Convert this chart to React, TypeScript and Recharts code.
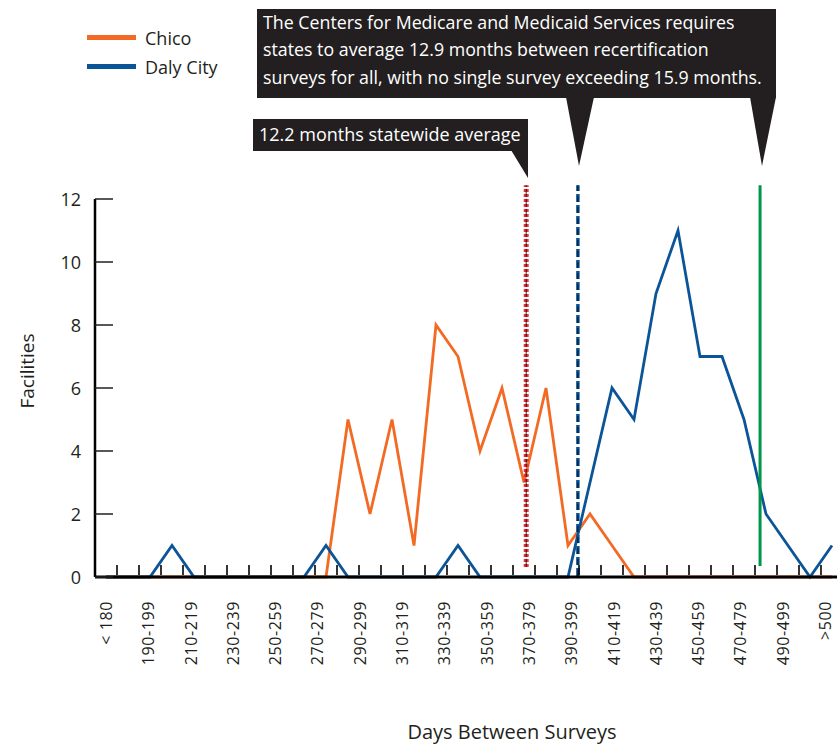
import React from "react";
import { LineChart, Line, XAxis, YAxis, ReferenceLine, Legend } from "recharts";

const categories = [
  "<180", "180-189", "190-199", "200-209", "210-219", "220-229", "230-239", "240-249",
  "250-259", "260-269", "270-279", "280-289", "290-299", "300-309", "310-319", "320-329",
  "330-339", "340-349", "350-359", "360-369", "370-379", "380-389", "390-399", "400-409",
  "410-419", "420-429", "430-439", "440-449", "450-459", "460-469", "470-479", "480-489",
  "490-499", ">500",
];
const chico = [0, 0, 0, 0, 0, 0, 0, 0, 0, 0, 0, 5, 2, 5, 1, 8, 7, 4, 6, 3, 6, 1, 2, 1, 0, 0, 0, 0, 0, 0, 0, 0, 0, 0];
const dalyCity = [0, 0, 0, 1, 0, 0, 0, 0, 0, 0, 1, 0, 0, 0, 0, 0, 1, 0, 0, 0, 0, 0, 3, 6, 5, 9, 11, 7, 7, 5, 2, 1, 0, 1];
const axisLabels = [
  "< 180", "190-199", "210-219", "230-239", "250-259", "270-279", "290-299", "310-319",
  "330-339", "350-359", "370-379", "390-399", "410-419", "430-439", "450-459", "470-479",
  "490-499", ">500",
];
const yTicks = [0, 2, 4, 6, 8, 10, 12];
// reference positions in category-index units
const statewideAvg = 19.1;
const cmsAverage = 21.45;
const cmsMax = 29.73;

const data = categories.map((c, i) => ({ i, cat: c, chico: chico[i], daly: dalyCity[i] }));
const lastIdx = categories.length - 1;
const boundaryTicks = categories.slice(1).map((_, k) => k + 0.5);
// the printed labels are spread evenly across the category span
const labelTicks = axisLabels.map((_, k) => (k * lastIdx) / (axisLabels.length - 1));

const FONT = "'Open Sans', sans-serif";
const ORANGE = "#f26a24";
const BLUE = "#0b5497";
const RED = "#ee3338";
const GREEN = "#00964a";
const DARK = "#231f20";

const YTick = (props: any) => {
  const { x, y, payload } = props;
  return (
    <g>
      <line x1={x + 14} x2={x + 32} y1={y} y2={y} stroke="#231f20" strokeWidth={1.5} />
      <text x={x} y={y} textAnchor="end" dominantBaseline="central" fontSize={18} fill="#231f20" fontFamily={FONT}>
        {payload.value}
      </text>
    </g>
  );
};

const XBoundaryTick = (props: any) => {
  const { x, y } = props;
  return <line x1={x} x2={x} y1={y - 12} y2={y - 2} stroke="#000" strokeWidth={1.6} />;
};

const XLabelTick = (props: any) => {
  const { x, y, index } = props;
  return (
    <text
      transform={`translate(${x},${y + 23}) rotate(-90)`}
      textAnchor="end"
      dominantBaseline="central"
      fontSize={16}
      letterSpacing={0.6}
      fill="#231f20"
      fontFamily={FONT}
    >
      {axisLabels[index]}
    </text>
  );
};

const LegendContent = (props: any) => {
  const { payload } = props;
  return (
    <div style={{ fontFamily: FONT }}>
      {(payload || []).map((p: any) => (
        <div key={p.value} style={{ display: "flex", alignItems: "center", height: 29 }}>
          <div style={{ width: 49, height: 5, background: p.color, marginRight: 9 }} />
          <span style={{ fontSize: 18, color: "#231f20" }}>{p.value}</span>
        </div>
      ))}
    </div>
  );
};

export default function App() {
  return (
    <div style={{ position: "absolute", left: 0, top: 0, width: 837, height: 747, background: "#fff" }}>
      <LineChart width={837} height={747} data={data} margin={{ top: 199, right: 0, left: 0, bottom: 69 }}>
        <XAxis
          dataKey="i"
          type="number"
          domain={[0, lastIdx]}
          ticks={boundaryTicks}
          interval={0}
          padding={{ left: 11, right: 5 }}
          axisLine={{ stroke: "#000", strokeWidth: 3 }}
          tickLine={false}
          tickSize={0}
          tickMargin={0}
          tick={<XBoundaryTick />}
          height={1}
        />
        <XAxis
          xAxisId="lab"
          dataKey="i"
          type="number"
          domain={[0, lastIdx]}
          ticks={labelTicks}
          interval={0}
          padding={{ left: 11, right: 12 }}
          axisLine={false}
          tickLine={false}
          tickSize={0}
          tickMargin={0}
          tick={<XLabelTick />}
          height={100}
        />
        <YAxis
          domain={[0, 12]}
          ticks={yTicks}
          interval={0}
          width={95}
          axisLine={{ stroke: "#000", strokeWidth: 2.5 }}
          tickLine={false}
          tickSize={0}
          tickMargin={14}
          tick={<YTick />}
        />
        <Legend
          layout="vertical"
          align="center"
          verticalAlign="middle"
          content={<LegendContent />}
          wrapperStyle={{ position: "absolute", top: 23, left: 87, width: 200 }}
        />
        <Line dataKey="chico" name="Chico" stroke={ORANGE} strokeWidth={2.8} dot={false} isAnimationActive={false} strokeLinejoin="miter" />
        <Line dataKey="daly" name="Daly City" stroke={BLUE} strokeWidth={2.8} dot={false} isAnimationActive={false} strokeLinejoin="miter" />
        <ReferenceLine
          segment={[{ x: statewideAvg, y: 0.32 }, { x: statewideAvg, y: 12.44 }]}
          stroke={RED}
          strokeWidth={5}
          strokeDasharray="3 2"
          ifOverflow="visible"
        />
        <ReferenceLine
          segment={[{ x: statewideAvg, y: 0.32 }, { x: statewideAvg, y: 12.44 }]}
          stroke="#000"
          strokeWidth={0.8}
          strokeDasharray="8 2"
          ifOverflow="visible"
        />
        <ReferenceLine
          segment={[{ x: cmsAverage, y: 0.03 }, { x: cmsAverage, y: 12.44 }]}
          stroke={BLUE}
          strokeWidth={3.5}
          strokeDasharray="8 3"
          ifOverflow="visible"
        />
        <ReferenceLine
          segment={[{ x: cmsAverage, y: 0.03 }, { x: cmsAverage, y: 12.44 }]}
          stroke="#000"
          strokeWidth={0.8}
          strokeDasharray="6 5"
          ifOverflow="visible"
        />
        <ReferenceLine
          segment={[{ x: cmsMax, y: 0.35 }, { x: cmsMax, y: 12.44 }]}
          stroke={GREEN}
          strokeWidth={3}
          ifOverflow="visible"
        />
      </LineChart>
      <svg
        width={837}
        height={747}
        style={{ position: "absolute", left: 0, top: 0, pointerEvents: "none" }}
        fontFamily={FONT}
      >
        <rect x={257} y={9} width={519} height={89} fill={DARK} />
        <polygon points="566,97 594,97 579,166" fill={DARK} />
        <polygon points="750,97 776,97 762,166" fill={DARK} />
        <text x={263} y={29} fontSize={17.8} fill="#fff">The Centers for Medicare and Medicaid Services requires</text>
        <text x={263} y={56} fontSize={17.8} fill="#fff">states to average 12.9 months between recertification</text>
        <text x={263} y={84} fontSize={17.8} fill="#fff">surveys for all, with no single survey exceeding 15.9 months.</text>
        <rect x={253} y={119} width={275} height={32} fill={DARK} />
        <polygon points="511,150 528,150 528,178" fill={DARK} />
        <text x={259} y={141} fontSize={18} fill="#fff">12.2 months statewide average</text>
        <text
          transform="translate(27,371) rotate(-90)"
          textAnchor="middle"
          dominantBaseline="central"
          fontSize={19}
          fill="#231f20"
        >
          Facilities
        </text>
        <text x={512} y={731} textAnchor="middle" dominantBaseline="central" fontSize={20} fill="#231f20">
          Days Between Surveys
        </text>
      </svg>
    </div>
  );
}
